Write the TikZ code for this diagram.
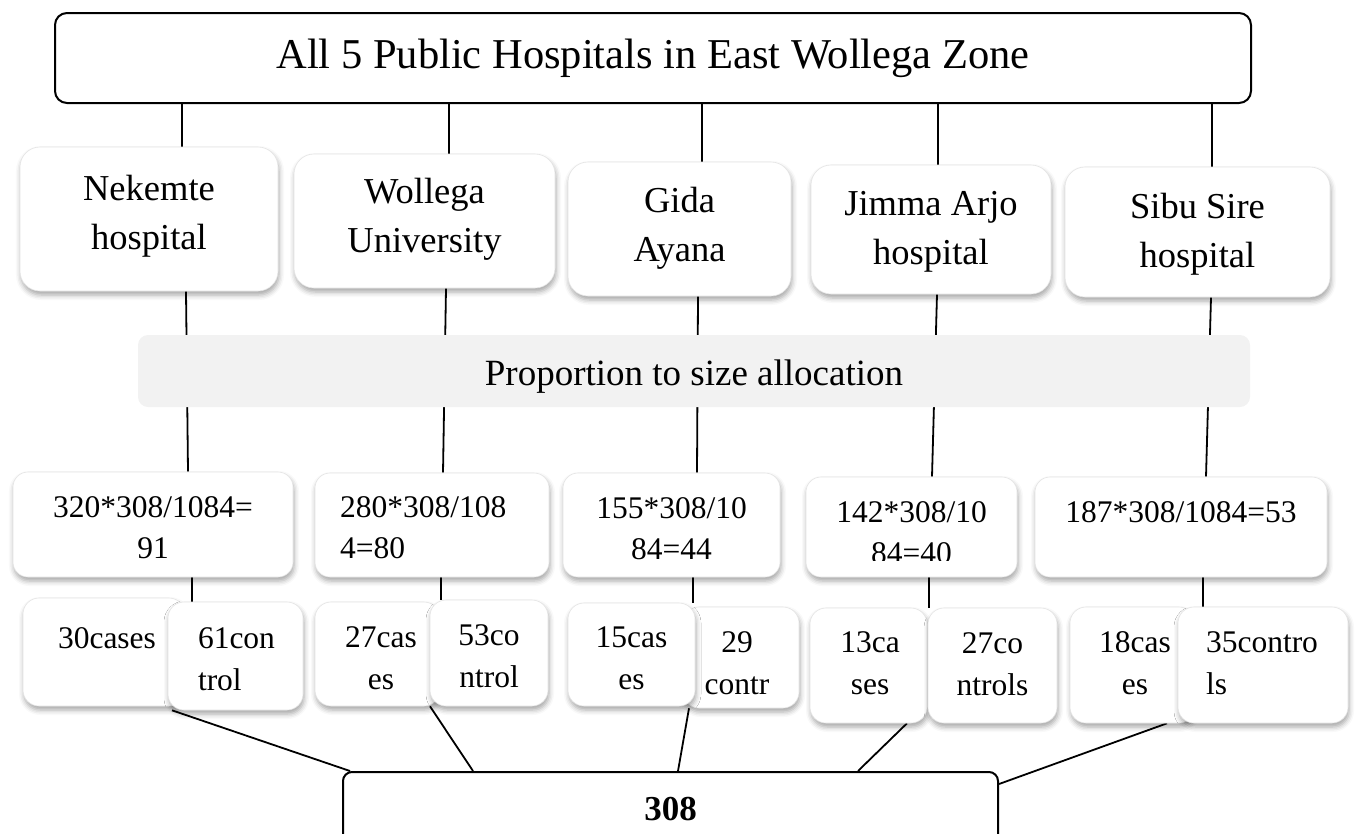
\documentclass[tikz,border=0pt]{standalone}
\usepackage{fontspec}
\setmainfont{Liberation Serif}
\usetikzlibrary{shadows.blur}
\pgfdeclarelayer{background}
\pgfsetlayers{background,main}
\definecolor{barfill}{RGB}{242,242,242}
\definecolor{boxedge}{RGB}{228,228,228}
% centred lines: #1 raise of first baseline above centre, #2 x offset, #3 lines
\newcommand\ctx[3]{\raisebox{#1pt}[0pt][0pt]{\kern#2pt\hbox to 0pt{\hss\begin{tabular}[t]{@{}c@{}}#3\end{tabular}\hss}\kern-#2pt}}
% left-aligned lines: #2 = left edge of text relative to centre
\newcommand\ltx[3]{\raisebox{#1pt}[0pt][0pt]{\kern#2pt\hbox to 0pt{\begin{tabular}[t]{@{}l@{}}#3\end{tabular}\hss}\kern-#2pt}}
\begin{document}
\begin{tikzpicture}[x=1pt,y=-1pt,
  conn/.style={line width=1.8pt, black},
  plainbox/.style={rectangle, inner sep=0pt, fill=white},
  softbox/.style={plainbox, draw=boxedge, line width=0.6pt,
    blur shadow={shadow xshift=1pt, shadow yshift=-4pt, shadow blur radius=5pt, shadow opacity=35}},
  hosp/.style={softbox, rounded corners=20pt, font=\fontsize{36.5}{49.5}\selectfont},
  calcbox/.style={softbox, rounded corners=15pt, font=\fontsize{31.5}{41.5}\selectfont},
  casebox/.style={softbox, rounded corners=16pt, font=\fontsize{31.5}{42}\selectfont},
  blackbox/.style={plainbox, draw=black, line width=2pt},
  dims/.style 2 args={minimum width=#1pt, minimum height=#2pt}]
\useasboundingbox (0,0) rectangle (1357,833);
\clip (0,0) rectangle (1357,833);

% title
\node[blackbox, rounded corners=12pt, dims={1196}{90}, font=\fontsize{42.5}{50}\selectfont] (top) at (653,58)
  {\ctx{-10}{0}{All 5 Public Hospitals in East Wollega Zone}};

% hospitals
\node[hosp, dims={258}{144}] (nek) at (149,219) {\ctx{19}{0}{Nekemte\\hospital}};
\node[hosp, dims={261}{134}] (wol) at (424.5,221) {\ctx{18}{0}{Wollega\\University}};
\node[hosp, dims={223}{134}] (gid) at (679.5,229) {\ctx{17}{0}{Gida\\Ayana}};
\node[hosp, dims={240}{129}] (jim) at (931,229.5) {\ctx{14.5}{0}{Jimma Arjo\\hospital}};
\node[hosp, dims={265}{130}] (sib) at (1197.5,232) {\ctx{14}{0}{Sibu Sire\\hospital}};

% allocation bar
\node[plainbox, fill=barfill, rounded corners=10pt, dims={1112}{72}, font=\fontsize{37}{44}\selectfont] (bar) at (694,371)
  {\ctx{-14}{0}{Proportion to size allocation}};

% calculations
\node[calcbox, dims={280}{105}] (c1) at (153,524.5) {\ctx{7.5}{0}{320*308/1084=\\91}};
\node[calcbox, dims={234}{104}] (c2) at (432,525) {\ltx{8}{-92}{280*308/108\\4=80}};
\node[calcbox, dims={217}{104}] (c3) at (671.5,525) {\ctx{7}{0}{155*308/10\\84=44}};
\node[calcbox, dims={211}{100}] (c4) at (911.5,527) {\ctx{5}{0}{142*308/10\\84=40}};
\fill[white] (860,561) rectangle (965,574);
\node[calcbox, dims={292}{100}] (c5) at (1181,527) {\ctx{5}{0}{187*308/1084=53}};

% cases and controls
\node[casebox, dims={162}{108}] (k1) at (104,652) {\ctx{4}{3}{30cases}};
\node[casebox, dims={135}{108}] (k2) at (235.5,656) {\ltx{8}{-37.5}{61con\\trol}};
\node[casebox, dims={125}{104}] (k3) at (377.5,654) {\ctx{7}{3.5}{27cas\\es}};
\node[casebox, dims={118}{106}] (k4) at (489,653) {\ctx{8}{0}{53co\\ntrol}};
\node[casebox, dims={116}{101}] (k6) at (741,657.5) {\ctx{5.5}{-4}{29\\contr}};
\node[casebox, dims={127}{103}] (k5) at (631.5,654.5) {\ctx{7.5}{0}{15cas\\es}};
\node[casebox, dims={117}{115}] (k7) at (868.5,665.5) {\ctx{13.5}{1.5}{13ca\\ses}};
\node[casebox, dims={129}{115}] (k8) at (992.5,665.5) {\ctx{12.5}{0}{27co\\ntrols}};
\node[casebox, dims={125}{116}] (k9) at (1132.5,665) {\ctx{13}{2.5}{18cas\\es}};
\node[casebox, dims={170}{116}] (k10) at (1263,665) {\ltx{13}{-57}{35contro\\ls}};

% total
\node[blackbox, rounded corners=9pt, dims={655}{98}, font=\fontsize{35}{42}\selectfont\bfseries] (tot) at (670.5,821)
  {\ctx{1}{0}{308}};

\begin{pgfonlayer}{background}
  % title to hospitals
  \draw[conn] (top.south -| 182,0) -- (nek.north -| 182,0);
  \draw[conn] (top.south -| 449,0) -- (wol.north -| 449,0);
  \draw[conn] (top.south -| 702,0) -- (gid.north -| 702,0);
  \draw[conn] (top.south -| 938,0) -- (jim.north -| 938,0);
  \draw[conn] (top.south -| 1212,0) -- (sib.north -| 1212,0);
  % hospitals to calculations (behind the bar)
  \draw[conn] (nek.south -| 186,0) -- (c1.north -| 188,0);
  \draw[conn] (wol.south -| 446,0) -- (c2.north -| 443,0);
  \draw[conn] (gid.south -| 698,0) -- (c3.north -| 697,0);
  \draw[conn] (jim.south -| 937,0) -- (c4.north -| 932,0);
  \draw[conn] (sib.south -| 1211,0) -- (c5.north -| 1206,0);
  % calculations to case/control boxes
  \draw[conn] (c1.south -| 192,0) -- (k2.north -| 192,0);
  \draw[conn] (c2.south -| 441,0) -- (k4.north -| 441,0);
  \draw[conn] (c3.south -| 693,0) -- (k5.north -| 693,0);
  \draw[conn] (c4.south -| 929,0) -- (k8.north -| 929,0);
  \draw[conn] (c5.south -| 1203,0) -- (k10.north -| 1203,0);
  % to total
  \draw[conn] (k2.south -| 172,0) -- (tot.north -| 350,0);
  \draw[conn] (k4.south -| 430,0) -- (tot.north -| 473,0);
  \draw[conn] (k6.south -| 689,0) -- (tot.north -| 678,0);
  \draw[conn] (k7.south -| 907,0) -- (tot.north -| 858,0);
  \draw[conn] (k9.south -| 1167,0) -- (tot.east |- 0,784);
\end{pgfonlayer}
\end{tikzpicture}
\end{document}
